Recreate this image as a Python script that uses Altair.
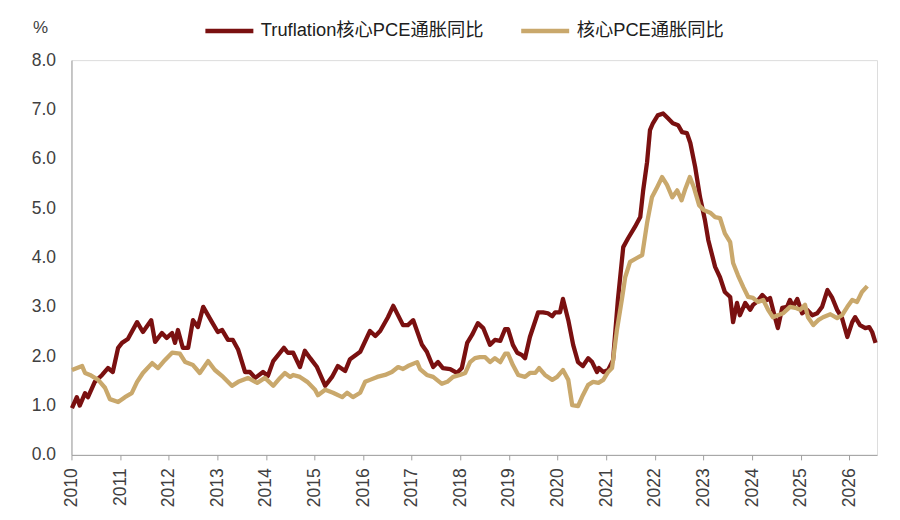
import altair as alt
import pandas as pd

# Truflation core PCE YoY (decimal year, %)
tru_x = [2010.01, 2010.11, 2010.17, 2010.28, 2010.34, 2010.48, 2010.63, 2010.75, 2010.85, 2010.96,
         2011.04, 2011.16, 2011.35, 2011.47, 2011.64, 2011.72, 2011.86, 2011.96,
         2012.07, 2012.13, 2012.19, 2012.29, 2012.40, 2012.50, 2012.60, 2012.71, 2012.89,
         2013.01, 2013.10, 2013.22, 2013.32, 2013.43, 2013.57, 2013.67, 2013.78, 2013.94,
         2014.04, 2014.15, 2014.25, 2014.37, 2014.45, 2014.56, 2014.70, 2014.80, 2014.91,
         2015.05, 2015.22, 2015.36, 2015.48, 2015.63, 2015.73, 2015.94,
         2016.14, 2016.25, 2016.35, 2016.51, 2016.62, 2016.82, 2016.92,
         2017.03, 2017.21, 2017.31, 2017.44, 2017.54, 2017.64, 2017.79, 2017.93,
         2018.03, 2018.14, 2018.24, 2018.36, 2018.47, 2018.61, 2018.71, 2018.82, 2018.92, 2018.98,
         2019.08, 2019.17, 2019.27, 2019.33, 2019.43, 2019.60, 2019.70, 2019.80, 2019.89, 2019.95,
         2020.05, 2020.11, 2020.22, 2020.32, 2020.42, 2020.52, 2020.63, 2020.71, 2020.81, 2020.85, 2020.94,
         2021.04, 2021.14, 2021.24, 2021.35, 2021.45, 2021.59, 2021.70, 2021.76, 2021.84, 2021.90, 2021.96,
         2022.06, 2022.17, 2022.27, 2022.37, 2022.48, 2022.56, 2022.66, 2022.73, 2022.83, 2022.93,
         2023.03, 2023.10, 2023.24, 2023.34, 2023.44, 2023.55, 2023.61, 2023.69, 2023.75, 2023.86, 2023.96,
         2024.02, 2024.10, 2024.21, 2024.31, 2024.37, 2024.47, 2024.53, 2024.62, 2024.72, 2024.78, 2024.84, 2024.93,
         2025.03, 2025.13, 2025.24, 2025.34, 2025.44, 2025.55, 2025.65, 2025.75, 2025.85, 2025.96,
         2026.06, 2026.12, 2026.22, 2026.33, 2026.41, 2026.47, 2026.54]
tru_y = [0.95, 1.17, 1.00, 1.25, 1.17, 1.48, 1.62, 1.76, 1.68, 2.17,
         2.27, 2.35, 2.69, 2.49, 2.73, 2.29, 2.47, 2.37,
         2.47, 2.27, 2.53, 2.17, 2.17, 2.73, 2.59, 3.00, 2.69,
         2.49, 2.53, 2.33, 2.33, 2.13, 1.68, 1.68, 1.56, 1.68,
         1.60, 1.90, 2.02, 2.17, 2.07, 2.07, 1.78, 2.11, 1.96,
         1.78, 1.40, 1.58, 1.80, 1.70, 1.94, 2.09,
         2.51, 2.41, 2.51, 2.79, 3.02, 2.63, 2.63,
         2.73, 2.23, 2.09, 1.78, 1.88, 1.76, 1.74, 1.66,
         1.76, 2.27, 2.43, 2.67, 2.57, 2.23, 2.33, 2.31, 2.55, 2.55,
         2.23, 2.07, 2.02, 1.96, 2.39, 2.89, 2.89, 2.87, 2.81, 2.89,
         2.89, 3.16, 2.73, 2.23, 1.88, 1.80, 1.96, 1.88, 1.68, 1.76, 1.68,
         1.72, 1.92, 3.14, 4.21, 4.39, 4.62, 4.82, 5.36, 5.93, 6.58, 6.72,
         6.88, 6.92, 6.82, 6.72, 6.68, 6.54, 6.52, 6.32, 5.83, 5.22,
         4.76, 4.35, 3.81, 3.60, 3.30, 3.20, 2.69, 3.08, 2.83, 3.08, 2.94,
         3.04, 3.10, 3.24, 3.14, 3.18, 2.79, 2.57, 2.98, 3.00, 3.14, 3.00, 3.16,
         2.87, 2.94, 2.83, 2.87, 3.00, 3.34, 3.18, 2.94, 2.77, 2.39,
         2.69, 2.79, 2.63, 2.57, 2.59, 2.49, 2.27]

# Core PCE YoY (decimal year, %)
pce_x = [2010.01, 2010.22, 2010.28, 2010.38, 2010.55, 2010.69, 2010.79, 2010.96,
         2011.10, 2011.24, 2011.35, 2011.47, 2011.66, 2011.78, 2011.92,
         2012.07, 2012.23, 2012.34, 2012.50, 2012.64, 2012.81, 2012.95,
         2013.12, 2013.30, 2013.43, 2013.63, 2013.82, 2013.98,
         2014.15, 2014.29, 2014.39, 2014.50, 2014.56, 2014.70, 2014.85,
         2015.01, 2015.07, 2015.22, 2015.38, 2015.57, 2015.67, 2015.79, 2015.94,
         2016.04, 2016.14, 2016.29, 2016.45, 2016.59, 2016.72, 2016.82, 2016.92,
         2017.11, 2017.17, 2017.31, 2017.44, 2017.62, 2017.73, 2017.85, 2017.99,
         2018.10, 2018.20, 2018.30, 2018.40, 2018.51, 2018.61, 2018.71, 2018.82, 2018.92, 2018.98,
         2019.08, 2019.19, 2019.33, 2019.43, 2019.54, 2019.62, 2019.74, 2019.89, 2019.99,
         2020.11, 2020.22, 2020.30, 2020.42, 2020.52, 2020.63, 2020.73, 2020.84, 2020.94,
         2021.04, 2021.12, 2021.22, 2021.33, 2021.39, 2021.49, 2021.63, 2021.74, 2021.84, 2021.94,
         2022.05, 2022.15, 2022.25, 2022.36, 2022.46, 2022.55, 2022.63, 2022.72, 2022.80, 2022.91,
         2023.01, 2023.15, 2023.24, 2023.34, 2023.44, 2023.55, 2023.61, 2023.71, 2023.82, 2023.92,
         2024.02, 2024.12, 2024.23, 2024.33, 2024.43, 2024.53, 2024.64, 2024.78, 2024.89, 2024.99,
         2025.09, 2025.15, 2025.26, 2025.36, 2025.46, 2025.61, 2025.75, 2025.85, 2025.96,
         2026.06, 2026.16, 2026.26, 2026.37]
pce_y = [1.72, 1.80, 1.66, 1.62, 1.52, 1.36, 1.13, 1.07,
         1.17, 1.25, 1.48, 1.66, 1.86, 1.76, 1.92,
         2.07, 2.05, 1.88, 1.82, 1.66, 1.90, 1.72,
         1.58, 1.40, 1.48, 1.56, 1.46, 1.56,
         1.40, 1.56, 1.66, 1.58, 1.62, 1.58, 1.48,
         1.32, 1.21, 1.32, 1.26, 1.17, 1.26, 1.17, 1.26,
         1.48, 1.52, 1.58, 1.62, 1.68, 1.78, 1.74, 1.80,
         1.88, 1.74, 1.62, 1.58, 1.44, 1.48, 1.58, 1.62,
         1.66, 1.88, 1.96, 1.98, 1.98, 1.88, 1.96, 1.88, 2.05, 2.05,
         1.82, 1.62, 1.58, 1.66, 1.66, 1.76, 1.62, 1.52, 1.58,
         1.72, 1.52, 1.01, 0.99, 1.21, 1.42, 1.48, 1.46, 1.52,
         1.68, 1.76, 2.53, 3.20, 3.60, 3.91, 3.99, 4.05, 4.70, 5.22,
         5.43, 5.63, 5.47, 5.22, 5.36, 5.16, 5.40, 5.63, 5.43, 5.06,
         4.96, 4.90, 4.82, 4.80, 4.49, 4.31, 3.89, 3.64, 3.40, 3.20,
         3.18, 3.10, 3.14, 2.94, 2.79, 2.83, 2.87, 3.00, 2.98, 2.94,
         3.04, 2.79, 2.63, 2.73, 2.79, 2.85, 2.77, 2.83, 3.00,
         3.14, 3.10, 3.30, 3.42]

series_names = ["Truflation核心PCE通胀同比", "核心PCE通胀同比"]
series_colors = ["#7a1010", "#c9a86c"]
year_ticks = list(range(2010, 2027))
y_ticks = [0, 1, 2, 3, 4, 5, 6, 7, 8]

df = pd.concat([
    pd.DataFrame({"x": tru_x, "y": tru_y, "s": series_names[0]}),
    pd.DataFrame({"x": pce_x, "y": pce_y, "s": series_names[1]}),
])

FONT = "Liberation Sans, Arial, Noto Sans CJK SC, sans-serif"

chart = alt.Chart(df).mark_line(strokeWidth=4.3, strokeJoin="round").encode(
    x=alt.X("x:Q",
            scale=alt.Scale(domain=[2010, 2026.57], nice=False, zero=False),
            axis=alt.Axis(values=year_ticks, format="d", labelAngle=-90, title=None,
                          grid=False, domainColor="#a0a0a0", tickColor="#a0a0a0",
                          tickSize=5, labelPadding=8, labelFontSize=17.5,
                          labelColor="#404040", labelFont=FONT, labelFlush=False,
                          labelOverlap=False)),
    y=alt.Y("y:Q",
            scale=alt.Scale(domain=[0, 8], nice=False),
            axis=alt.Axis(values=y_ticks, format=".1f", title="%", titleAngle=0,
                          titleAlign="left", titleBaseline="middle", titleX=-39, titleY=-33,
                          titleFontSize=17, titleFontWeight="normal", titleColor="#404040",
                          titleFont=FONT, grid=False, ticks=False, domainColor="#a0a0a0",
                          labelPadding=16, labelFontSize=17.5, labelColor="#404040",
                          labelFont=FONT)),
    color=alt.Color("s:N",
                    scale=alt.Scale(domain=series_names, range=series_colors),
                    sort=series_names,
                    legend=alt.Legend(title=None, orient="none", direction="horizontal",
                                      legendX=131.5, legendY=-56, symbolType="stroke",
                                      symbolSize=2304, symbolStrokeWidth=4.5,
                                      labelFontSize=18.3, labelFont=FONT, labelColor="#202020",
                                      labelOffset=5, columnPadding=28, padding=0,
                                      labelLimit=400)),
).properties(
    width=806,
    height=395,
    autosize=alt.AutoSizeParams(type="none"),
    padding={"left": 63.5, "top": 52, "right": 15, "bottom": 55},
).configure_view(stroke=None).configure(background="white")

chart.save("out.html", embed_options={"renderer": "svg", "actions": False})
